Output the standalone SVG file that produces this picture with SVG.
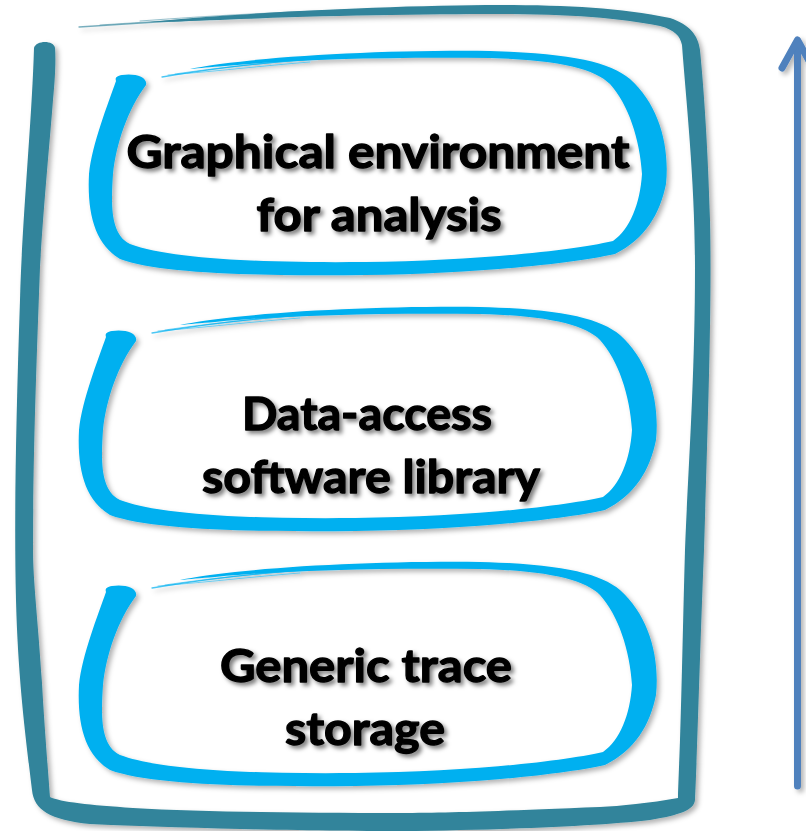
<svg xmlns="http://www.w3.org/2000/svg" width="806" height="831" viewBox="0 0 806 831">
<style>
.frame{fill:#31849B;}
.frame-streak{fill:none;stroke:#31849B;stroke-linecap:round;}
.box{fill:#00B0F0;}
.box-streak{fill:none;stroke:#00B0F0;stroke-linecap:round;}
.lbl{font-family:Lato,"Liberation Sans",sans-serif;font-weight:700;font-size:46px;fill:#000;stroke:#000;stroke-width:1.3;stroke-linejoin:round;text-anchor:middle;}
.arrow{fill:none;stroke:#4F81BD;stroke-width:7;stroke-linecap:round;stroke-linejoin:round;}
</style>
<defs>
<filter id="shade" x="-10%" y="-10%" width="120%" height="120%">
<feDropShadow dx="3" dy="3" stdDeviation="2.5" flood-color="#000" flood-opacity="0.3"/>
</filter>
<filter id="tshade" x="-10%" y="-20%" width="120%" height="150%">
<feDropShadow dx="3" dy="3" stdDeviation="2" flood-color="#000" flood-opacity="0.5"/>
</filter>
<g id="box">
<path class="box" d="M106,337 C98,360 82,400 79,430 C77,470 85,500 110,515 C150,530 250,532 355,531 C460,530 560,520 605,510 C635,495 650,470 656,440 C660,400 648,360 620,335 C600,318 560,309 480,307 C380,306 280,311 210,320 C195,322 185,324 180,325 C190,324 200,323 215,322 C290,315 380,313 480,314 C550,316 585,325 600,340 C618,360 630,395 632,430 C630,460 620,485 603,497 C560,507 460,517 355,518 C250,519 160,515 120,500 C100,490 101,460 103,430 C106,400 118,365 136,341 C138,333 125,329 112,331 C106,332 105,334 106,337 Z"/>
<path class="box-streak" stroke-width="1.3" opacity="0.7" d="M152,333 C200,325 260,317 340,312"/>
<path class="box-streak" stroke-width="1" opacity="0.55" d="M165,330 C220,322 290,315 380,311"/>
<path class="box-streak" stroke-width="1" opacity="0.5" d="M158,331 C210,327 250,322 300,318"/>
</g>
</defs>

<g id="frame" filter="url(#shade)">
<path class="frame" d="M34,48 C32,120 22,220 20,300 C16,420 14,520 16,600 C18,680 26,740 32,790 C34,810 50,820 90,824 C200,829 330,831 400,831 C500,830 600,826 650,820 C680,815 694,810 695,800 C697,760 700,650 704,550 C708,420 712,300 710,220 C708,150 704,90 700,50 C698,35 690,25 670,18 C620,8 570,5 500,5 C420,5 300,10 220,16 C190,18 170,20 150,22 C170,22 190,21 220,20 C300,16 420,14 500,14 C570,14 620,18 660,26 C675,30 680,36 682,45 C686,100 695,180 695,267 C695,380 688,470 685,550 C683,620 682,680 680,740 C679,770 678,790 678,798 C650,803 620,806 600,807 C500,811 450,813 400,813 C300,813 200,812 133,808 C90,805 60,802 50,797 C48,770 44,720 42,683 C38,620 33,580 33,550 C33,450 37,350 40,267 C44,200 50,140 53,100 C55,80 56,60 55,48 C54,40 36,40 34,48 Z"/>
<path class="frame-streak" stroke-width="1.3" opacity="0.65" d="M79,27 C130,24 200,19 300,13"/>
<path class="frame-streak" stroke-width="0.9" opacity="0.5" d="M100,25 C160,21 230,17 330,12"/>
<path class="frame-streak" stroke-width="1" opacity="0.5" d="M140,21 C220,15 300,11 380,9"/>
</g>

<g id="node-graphical">
<use href="#box" transform="translate(10,-256)" filter="url(#shade)"/>
<g filter="url(#tshade)">
<text class="lbl" x="378" y="168" textLength="503" lengthAdjust="spacingAndGlyphs">Graphical environment</text>
<text class="lbl" x="379" y="231" textLength="245" lengthAdjust="spacingAndGlyphs">for analysis</text>
</g>
</g>

<g id="node-data-access">
<use href="#box" filter="url(#shade)"/>
<g filter="url(#tshade)">
<text class="lbl" x="367" y="430" textLength="250" lengthAdjust="spacingAndGlyphs">Data-access</text>
<text class="lbl" x="371" y="493" textLength="338" lengthAdjust="spacingAndGlyphs">software library</text>
</g>
</g>

<g id="node-storage">
<use href="#box" transform="translate(0,255)" filter="url(#shade)"/>
<g filter="url(#tshade)">
<text class="lbl" x="366" y="682" textLength="292" lengthAdjust="spacingAndGlyphs">Generic trace</text>
<text class="lbl" x="365" y="745" textLength="160" lengthAdjust="spacingAndGlyphs">storage</text>
</g>
</g>

<g id="connectors" filter="url(#shade)">
<path class="arrow" d="M797.5,786 L797.5,42"/>
<path class="arrow" d="M782,68 L797.5,40 L813,68"/>
</g>
</svg>
